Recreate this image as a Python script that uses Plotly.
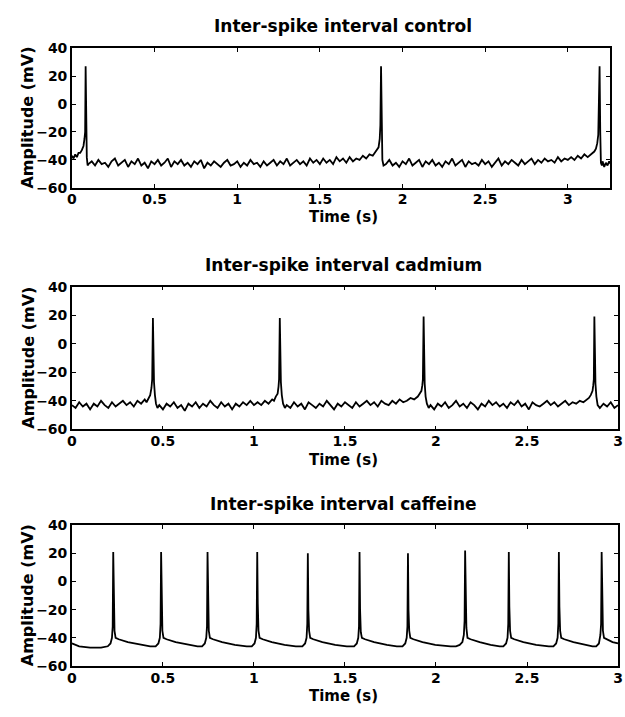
import plotly.graph_objects as go

# ---- data (time in s, amplitude in mV) ----
control_t = [0.000, 0.010, 0.020, 0.030, 0.040, 0.050, 0.060, 0.070, 0.076, 0.080, 0.083, 0.086, 0.090, 0.095,
             0.100, 0.12, 0.14, 0.16, 0.18, 0.20, 0.22, 0.24, 0.26, 0.28, 0.30, 0.32, 0.34, 0.36, 0.38, 0.40,
             0.42, 0.44, 0.46, 0.48, 0.50, 0.52, 0.54, 0.56, 0.58, 0.60, 0.62, 0.64, 0.66, 0.68, 0.70, 0.72,
             0.74, 0.76, 0.78, 0.80, 0.82, 0.84, 0.86, 0.88, 0.90, 0.92, 0.94, 0.96, 0.98, 1.00, 1.02, 1.04,
             1.06, 1.08, 1.10, 1.12, 1.14, 1.16, 1.18, 1.20, 1.22, 1.24, 1.26, 1.28, 1.30, 1.32, 1.34, 1.36,
             1.38, 1.40, 1.42, 1.44, 1.46, 1.48, 1.50, 1.52, 1.54, 1.56, 1.58, 1.60, 1.62, 1.64, 1.66, 1.68,
             1.70, 1.72, 1.74, 1.76, 1.78, 1.80, 1.82, 1.84, 1.855, 1.862, 1.866, 1.870, 1.873, 1.878, 1.885,
             1.90, 1.92, 1.94, 1.96, 1.98, 2.00, 2.02, 2.04, 2.06, 2.08, 2.10, 2.12, 2.14, 2.16, 2.18, 2.20,
             2.22, 2.24, 2.26, 2.28, 2.30, 2.32, 2.34, 2.36, 2.38, 2.40, 2.42, 2.44, 2.46, 2.48, 2.50, 2.52,
             2.54, 2.56, 2.58, 2.60, 2.62, 2.64, 2.66, 2.68, 2.70, 2.72, 2.74, 2.76, 2.78, 2.80, 2.82, 2.84,
             2.86, 2.88, 2.90, 2.92, 2.94, 2.96, 2.98, 3.00, 3.02, 3.04, 3.06, 3.08, 3.10, 3.12, 3.14, 3.16,
             3.17, 3.178, 3.184, 3.188, 3.192, 3.196, 3.200, 3.206, 3.21, 3.22, 3.23, 3.24, 3.25, 3.26]
control_v = [-37, -39, -36, -38, -35, -35, -33, -30, -25, -20, 27, -5, -38, -44,
             -43, -41, -44, -40, -43, -42, -45, -41, -39, -44, -42, -40, -45, -41, -43, -39,
             -44, -42, -46, -41, -43, -40, -44, -42, -39, -45, -41, -43, -40, -44, -42, -45,
             -41, -43, -40, -46, -42, -44, -41, -43, -45, -42, -40, -44, -43, -41, -45, -42,
             -44, -40, -43, -42, -45, -41, -44, -42, -40, -44, -41, -43, -39, -44, -42, -40,
             -43, -41, -44, -39, -42, -40, -43, -39, -42, -40, -43, -38, -41, -39, -42, -38,
             -41, -39, -40, -37, -39, -36, -37, -34, -31, -25, -15, 27, -10, -40, -44,
             -43, -40, -44, -42, -45, -41, -43, -39, -44, -42, -40, -45, -41, -43, -40, -44,
             -42, -45, -41, -43, -39, -44, -42, -40, -45, -41, -43, -42, -44, -40, -43, -41,
             -45, -42, -39, -44, -41, -43, -40, -42, -44, -40, -43, -41, -39, -43, -40, -42,
             -39, -41, -40, -42, -38, -41, -39, -40, -38, -40, -37, -39, -36, -38, -36, -34,
             -32, -28, -22, 27, 27, -20, -42, -44, -41, -45, -42, -44, -41, -43]

cadmium_t = [0.00, 0.02, 0.04, 0.06, 0.08, 0.10, 0.12, 0.14, 0.16, 0.18, 0.20, 0.22, 0.24, 0.26, 0.28, 0.30,
             0.32, 0.34, 0.36, 0.38, 0.40, 0.41, 0.42, 0.43, 0.437, 0.441, 0.445, 0.448, 0.451, 0.456, 0.462,
             0.47, 0.48, 0.50, 0.52, 0.54, 0.56, 0.58, 0.60, 0.62, 0.64, 0.66, 0.68, 0.70, 0.72, 0.74, 0.76,
             0.78, 0.80, 0.82, 0.84, 0.86, 0.88, 0.90, 0.92, 0.94, 0.96, 0.98, 1.00, 1.02, 1.04, 1.06, 1.08,
             1.10, 1.11, 1.12, 1.13, 1.135, 1.138, 1.142, 1.145, 1.148, 1.153, 1.16, 1.17, 1.18, 1.20, 1.22,
             1.24, 1.26, 1.28, 1.30, 1.32, 1.34, 1.36, 1.38, 1.40, 1.42, 1.44, 1.46, 1.48, 1.50, 1.52, 1.54,
             1.56, 1.58, 1.60, 1.62, 1.64, 1.66, 1.68, 1.70, 1.72, 1.74, 1.76, 1.78, 1.80, 1.82, 1.84, 1.86,
             1.88, 1.90, 1.91, 1.92, 1.925, 1.928, 1.932, 1.935, 1.938, 1.943, 1.95, 1.96, 1.97, 1.99, 2.01,
             2.03, 2.05, 2.07, 2.09, 2.11, 2.13, 2.15, 2.17, 2.19, 2.21, 2.23, 2.25, 2.27, 2.29, 2.31, 2.33,
             2.35, 2.37, 2.39, 2.41, 2.43, 2.45, 2.47, 2.49, 2.51, 2.53, 2.55, 2.57, 2.59, 2.61, 2.63, 2.65,
             2.67, 2.69, 2.71, 2.73, 2.75, 2.77, 2.79, 2.81, 2.83, 2.84, 2.85, 2.86, 2.864, 2.867, 2.870,
             2.873, 2.876, 2.881, 2.888, 2.90, 2.92, 2.94, 2.96, 2.98, 3.00]
cadmium_v = [-43, -45, -41, -44, -42, -46, -42, -44, -40, -43, -45, -41, -44, -42, -40, -43,
             -41, -44, -40, -42, -39, -41, -38, -36, -31, -25, 18, -20, -27, -36, -42,
             -45, -43, -46, -42, -44, -41, -45, -43, -47, -42, -44, -41, -45, -42, -44, -40,
             -43, -45, -41, -44, -42, -46, -42, -44, -41, -43, -40, -43, -41, -43, -40, -42,
             -39, -40, -37, -35, -30, -25, 18, -20, -27, -36, -42, -45, -43, -45, -41,
             -44, -42, -46, -41, -43, -45, -42, -44, -40, -43, -46, -42, -44, -41, -43, -45,
             -41, -44, -42, -40, -43, -41, -44, -40, -42, -43, -40, -42, -39, -41, -40, -38,
             -39, -37, -35, -33, -29, -25, 19, -20, -28, -37, -42, -45, -43, -46, -42,
             -44, -41, -45, -43, -40, -44, -42, -45, -41, -43, -46, -42, -44, -40, -43, -41,
             -44, -42, -45, -41, -43, -40, -44, -42, -46, -41, -43, -44, -42, -40, -43, -41,
             -44, -42, -40, -43, -41, -42, -40, -41, -39, -38, -36, -33, -29, -25, 19,
             -20, -28, -37, -43, -45, -42, -44, -41, -45, -43]

caffeine_t = [0.00, 0.04, 0.10, 0.16,
              0.197, 0.212, 0.220, 0.224, 0.227, 0.230, 0.234, 0.240, 0.257, 0.307, 0.377, 0.43,
              0.46, 0.475, 0.483, 0.487, 0.490, 0.493, 0.497, 0.503, 0.52, 0.57, 0.64, 0.69,
              0.715, 0.730, 0.738, 0.742, 0.745, 0.748, 0.752, 0.758, 0.775, 0.825, 0.895, 0.96,
              0.988, 1.003, 1.011, 1.015, 1.018, 1.021, 1.025, 1.031, 1.048, 1.098, 1.168, 1.23,
              1.266, 1.281, 1.289, 1.293, 1.296, 1.299, 1.303, 1.309, 1.326, 1.376, 1.446, 1.51,
              1.55, 1.565, 1.573, 1.577, 1.580, 1.583, 1.587, 1.593, 1.61, 1.66, 1.73, 1.785,
              1.816, 1.831, 1.839, 1.843, 1.846, 1.849, 1.853, 1.859, 1.876, 1.926, 1.996, 2.08, 2.11,
              2.13, 2.145, 2.153, 2.157, 2.160, 2.163, 2.167, 2.173, 2.19, 2.24, 2.30, 2.35,
              2.37, 2.385, 2.393, 2.397, 2.400, 2.403, 2.407, 2.413, 2.43, 2.48, 2.55, 2.62,
              2.645, 2.660, 2.668, 2.672, 2.675, 2.678, 2.682, 2.688, 2.705, 2.755, 2.825, 2.86,
              2.88, 2.895, 2.903, 2.907, 2.910, 2.913, 2.917, 2.923, 2.94, 2.97, 3.00]
caffeine_v = [-44, -46, -47, -47,
              -46, -44, -40, -32, 21, -20, -35, -40, -41, -43, -45, -46,
              -46, -44, -40, -30, 21, -20, -35, -40, -41, -43, -45, -46,
              -46, -44, -40, -32, 21, -18, -35, -40, -41, -43, -45, -46,
              -46, -44, -40, -30, 21, -16, -35, -40, -41, -43, -45, -46,
              -46, -44, -40, -30, 20, -20, -35, -40, -41, -43, -45, -46,
              -46, -44, -40, -32, 21, -20, -36, -40, -41, -43, -45, -46,
              -46, -44, -40, -32, 20, -20, -35, -40, -41, -43, -45, -46, -46,
              -45, -43, -38, -28, 22, -15, -33, -40, -41, -43, -45, -46,
              -46, -44, -40, -30, 21, -18, -35, -40, -41, -43, -45, -46,
              -46, -44, -40, -30, 21, -18, -35, -40, -41, -43, -45, -46,
              -46, -44, -38, -30, 21, -18, -35, -40, -41, -43, -44]

titles = ["Inter-spike interval control", "Inter-spike interval cadmium", "Inter-spike interval caffeine"]
x_ticks = [0, 0.5, 1, 1.5, 2, 2.5, 3]
x_ticklabels = ["0", "0.5", "1", "1.5", "2", "2.5", "3"]
y_ticks = [-60, -40, -20, 0, 20, 40]
x_max = [3.256, 3.0, 3.0]

W, H = 625, 717
FONT = "DejaVu Sans"

# pixel boxes of the three plot areas (left, right, top, bottom)
boxes = [(68, 615, 41, 184), (68, 623, 285, 431), (68, 623, 529, 673)]
title_y = [18, 263, 507]
xlab_y = [214, 462, 704]

fig = go.Figure()
series = [(control_t, control_v), (cadmium_t, cadmium_v), (caffeine_t, caffeine_v)]
for i, (t, v) in enumerate(series):
    sfx = "" if i == 0 else str(i + 1)
    fig.add_trace(go.Scatter(x=t, y=v, mode="lines", line=dict(color="black", width=1.8),
                             xaxis="x" + sfx, yaxis="y" + sfx, showlegend=False, hoverinfo="skip"))
    l, r, tp, bt = boxes[i]
    ax = dict(showline=True, linecolor="black", linewidth=1.5, mirror="allticks", ticks="inside",
              ticklen=4, tickwidth=1.2, tickcolor="black", showgrid=False, zeroline=False,
              ticklabeloverflow="allow",
              tickfont=dict(family=FONT, size=14, color="black", weight="bold"))
    fig.layout["xaxis" + sfx] = dict(ax, domain=[l / W, r / W], range=[0, x_max[i]],
                                     tickvals=x_ticks, ticktext=x_ticklabels, anchor="y" + sfx,
                                     ticklabelstandoff=-2)
    fig.layout["yaxis" + sfx] = dict(ax, domain=[1 - bt / H, 1 - tp / H], range=[-60, 40],
                                     tickvals=y_ticks, anchor="x" + sfx, ticklabelstandoff=0)
    fig.add_annotation(text=titles[i], x=344 / W, y=1 - title_y[i] / H, xref="paper", yref="paper",
                       xanchor="center", yanchor="middle", showarrow=False,
                       font=dict(family=FONT, size=17, color="black", weight="bold"))
    fig.add_annotation(text="Time (s)", x=344 / W, y=1 - xlab_y[i] / H, xref="paper", yref="paper",
                       xanchor="center", yanchor="middle", showarrow=False,
                       font=dict(family=FONT, size=15, color="black", weight="bold"))
    fig.add_annotation(text="Amplitude (mV)", x=23 / W, y=1 - (tp + bt) / 2 / H, xref="paper", yref="paper",
                       xanchor="center", yanchor="middle", textangle=-90, showarrow=False,
                       font=dict(family=FONT, size=16, color="black", weight="bold"))

fig.update_layout(width=W, height=H, margin=dict(l=0, r=0, t=0, b=0),
                  paper_bgcolor="white", plot_bgcolor="white")
fig.write_html("out.html", config={"displayModeBar": False},
               post_script="document.body.style.margin='0px';"
                           "document.documentElement.style.overflow='hidden';")
